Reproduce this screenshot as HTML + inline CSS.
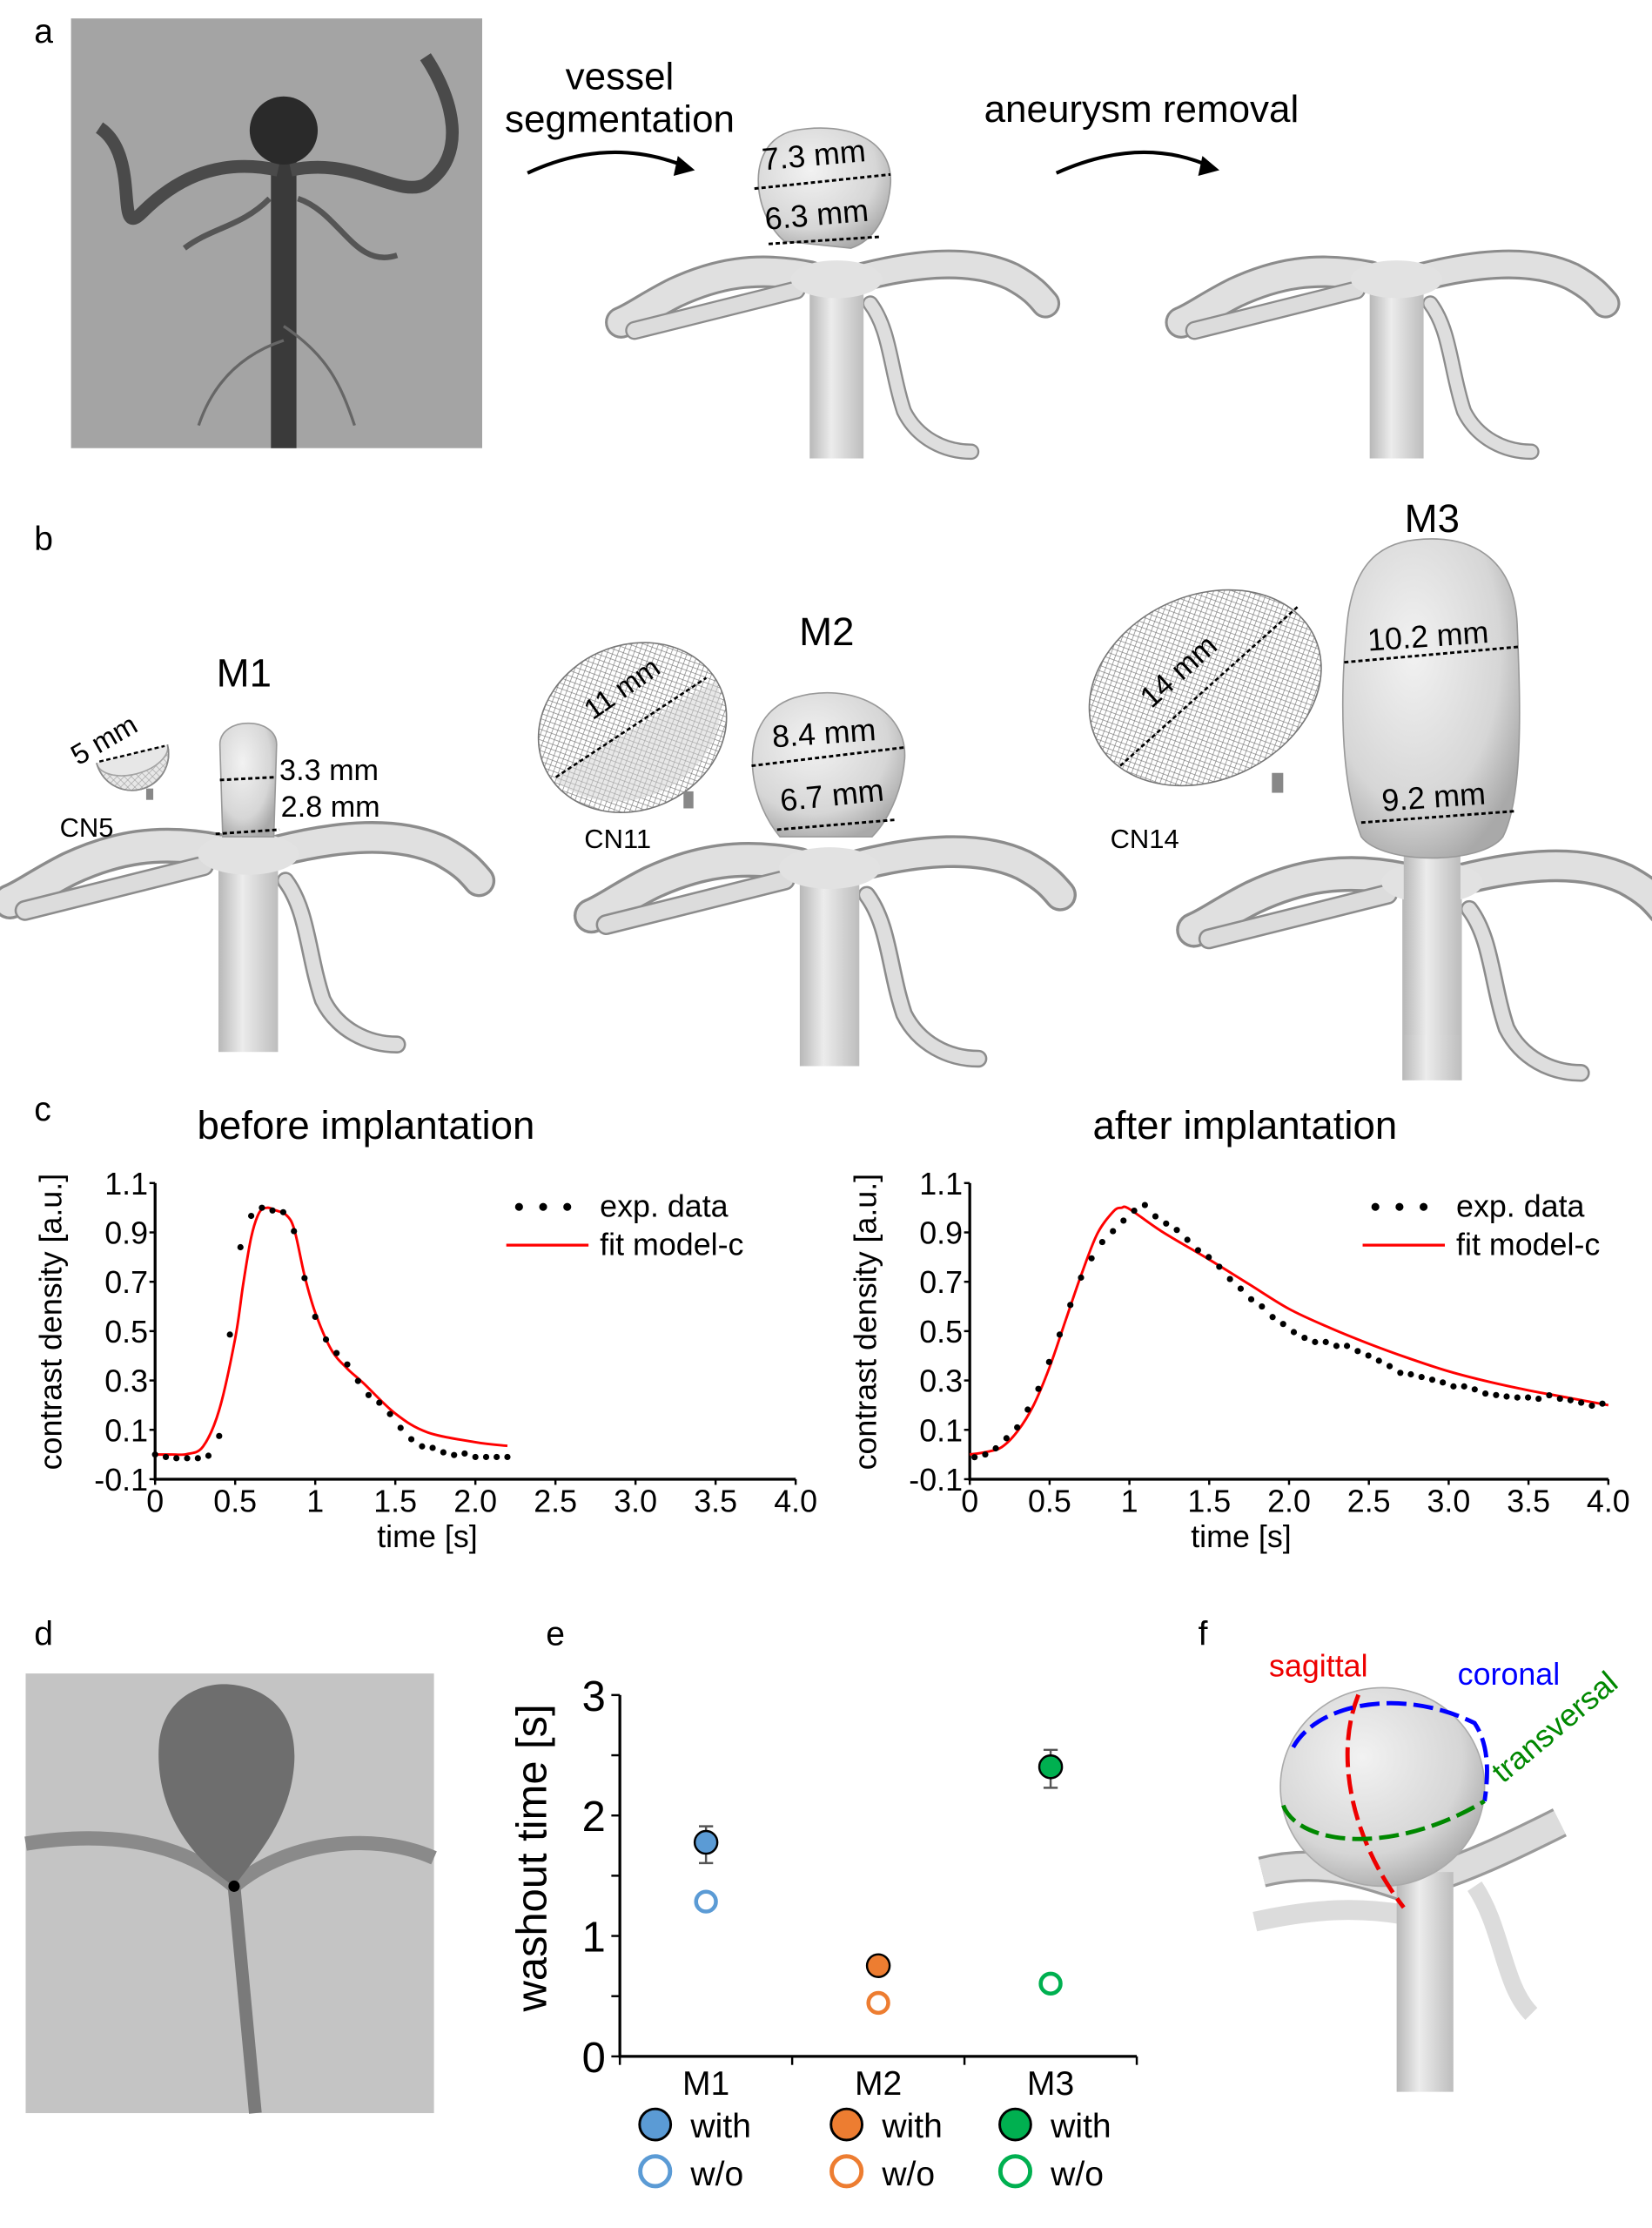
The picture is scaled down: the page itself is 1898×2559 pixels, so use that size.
<!DOCTYPE html>
<html><head><meta charset="utf-8"><style>
html,body{margin:0;padding:0;background:#fff;}
svg{display:block;font-family:"Liberation Sans",Arial,sans-serif;}
</style></head><body>
<svg id="fig" width="1898" height="2559" viewBox="0 0 1165 1571" xmlns="http://www.w3.org/2000/svg">
<defs>
<linearGradient id="vg" x1="0" x2="1" y1="0" y2="0"><stop offset="0" stop-color="#b8b8b8"/><stop offset="0.4" stop-color="#ececec"/><stop offset="1" stop-color="#bdbdbd"/></linearGradient>
<radialGradient id="bulb" cx="0.4" cy="0.35" r="0.7"><stop offset="0" stop-color="#f2f2f2"/><stop offset="0.7" stop-color="#d6d6d6"/><stop offset="1" stop-color="#a9a9a9"/></radialGradient>
<pattern id="mesh" width="5" height="5" patternUnits="userSpaceOnUse"><path d="M0 0L5 5M5 0L0 5" stroke="#777" stroke-width="0.4"/></pattern>
<g id="vessel">
  <path d="M-20 0 C-60 -8 -90 -2 -120 12 C-140 22 -150 30 -160 34" fill="none" stroke="#8c8c8c" stroke-width="24" stroke-linecap="round"/>
  <path d="M-20 0 C-60 -8 -90 -2 -120 12 C-140 22 -150 30 -160 34" fill="none" stroke="#e0e0e0" stroke-width="20" stroke-linecap="round"/>
  <path d="M20 0 C60 -10 100 -14 130 0 C145 8 150 14 155 20" fill="none" stroke="#8c8c8c" stroke-width="22" stroke-linecap="round"/>
  <path d="M20 0 C60 -10 100 -14 130 0 C145 8 150 14 155 20" fill="none" stroke="#e0e0e0" stroke-width="18" stroke-linecap="round"/>
  <path d="M-30 10 C-70 20 -110 30 -150 40" fill="none" stroke="#8c8c8c" stroke-width="14" stroke-linecap="round"/>
  <path d="M-30 10 C-70 20 -110 30 -150 40" fill="none" stroke="#dcdcdc" stroke-width="11" stroke-linecap="round"/>
  <path d="M25 20 C40 40 40 70 50 100 C60 120 80 130 100 130" fill="none" stroke="#8c8c8c" stroke-width="12" stroke-linecap="round"/>
  <path d="M25 20 C40 40 40 70 50 100 C60 120 80 130 100 130" fill="none" stroke="#dedede" stroke-width="9" stroke-linecap="round"/>
  <rect x="-20" y="-5" width="40" height="140" fill="url(#vg)"/>
  <ellipse cx="0" cy="2" rx="34" ry="14" fill="#e2e2e2"/>
</g>
</defs>

<!-- PANEL A -->
<text x="24" y="30" font-size="24">a</text>
<g>
  <rect x="50" y="13" width="290" height="303" fill="#a4a4a4"/>
  <path d="M200 110 L200 316" stroke="#3a3a3a" stroke-width="18" fill="none"/>
  <path d="M196 120 C150 110 120 130 100 150 C80 170 100 110 70 90" stroke="#4a4a4a" stroke-width="9" fill="none"/>
  <path d="M205 120 C250 110 280 140 300 130 C330 110 320 70 300 40" stroke="#4a4a4a" stroke-width="9" fill="none"/>
  <path d="M210 140 C240 150 250 190 280 180" stroke="#555" stroke-width="4" fill="none"/>
  <path d="M190 140 C170 160 150 160 130 175" stroke="#555" stroke-width="4" fill="none"/>
  <path d="M200 240 C170 250 150 270 140 300 M200 230 C230 250 240 270 250 300" stroke="#666" stroke-width="2" fill="none"/>
  <circle cx="200" cy="92" r="24" fill="#2a2a2a"/>
</g>
<text x="437" y="63" font-size="27" text-anchor="middle"><tspan x="437">vessel</tspan><tspan x="437" dy="30">segmentation</tspan></text>
<path d="M372 122 Q430 95 485 118" fill="none" stroke="#000" stroke-width="2.5"/>
<path d="M478 110 L490 120 L475 124 Z" fill="#000"/>
<text x="805" y="86" font-size="27" text-anchor="middle">aneurysm removal</text>
<path d="M745 122 Q805 95 855 118" fill="none" stroke="#000" stroke-width="2.5"/>
<path d="M848 110 L860 120 L845 124 Z" fill="#000"/>
<g>
  <use href="#vessel" transform="translate(590,195) scale(0.95)"/>
  <path d="M553 170 C530 150 525 100 560 92 C600 85 630 100 628 130 C626 155 615 170 600 175 Z" fill="url(#bulb)" stroke="#999" stroke-width="1"/>
  <line x1="532" y1="133" x2="628" y2="123" stroke="#000" stroke-width="1.8" stroke-dasharray="3,2"/>
  <line x1="542" y1="172" x2="620" y2="167" stroke="#000" stroke-width="1.8" stroke-dasharray="3,2"/>
  <text x="538" y="120" font-size="22" transform="rotate(-5 538 120)">7.3 mm</text>
  <text x="540" y="162" font-size="22" transform="rotate(-5 540 162)">6.3 mm</text>
</g>
<g>
  <use href="#vessel" transform="translate(985,195) scale(0.95)"/>
</g>

<!-- PANEL B -->
<text x="24" y="388" font-size="24">b</text>
<g>
  <use href="#vessel" transform="translate(175,600) scale(1.05)"/>
  <path d="M157 590 L155 525 C155 505 195 505 195 525 L193 590 Z" fill="url(#bulb)" stroke="#999" stroke-width="1"/>
  <line x1="155" y1="550" x2="194" y2="548" stroke="#000" stroke-width="1.8" stroke-dasharray="3,2"/>
  <line x1="152" y1="588" x2="197" y2="585" stroke="#000" stroke-width="1.8" stroke-dasharray="3,2"/>
  <text x="172" y="484" font-size="28" text-anchor="middle">M1</text>
  <text x="197" y="550" font-size="21">3.3 mm</text>
  <text x="198" y="576" font-size="21">2.8 mm</text>
  <path d="M68 538 A25 14 -15 0 0 118 525 A25 25 0 0 1 68 538 Z" fill="url(#mesh)" stroke="#777"/>
  <path d="M68 538 A25 25 0 0 0 118 525" fill="#cfcfcf" fill-opacity="0.5" stroke="#888"/>
  <rect x="103" y="556" width="5" height="8" fill="#888"/>
  <line x1="70" y1="537" x2="116" y2="526" stroke="#000" stroke-width="1.5" stroke-dasharray="3,2"/>
  <text x="55" y="540" font-size="20" transform="rotate(-30 55 540)">5 mm</text>
  <text x="42" y="590" font-size="19">CN5</text>
</g>
<g>
  <use href="#vessel" transform="translate(585,610) scale(1.05)"/>
  <path d="M550 590 C525 560 520 505 560 492 C600 480 640 500 638 535 C636 560 625 580 615 590 Z" fill="url(#bulb)" stroke="#999"/>
  <line x1="530" y1="540" x2="638" y2="527" stroke="#000" stroke-width="1.8" stroke-dasharray="3,2"/>
  <line x1="548" y1="585" x2="632" y2="578" stroke="#000" stroke-width="1.8" stroke-dasharray="3,2"/>
  <text x="583" y="455" font-size="28" text-anchor="middle">M2</text>
  <text x="545" y="527" font-size="22" transform="rotate(-4 545 527)">8.4 mm</text>
  <text x="551" y="572" font-size="22" transform="rotate(-6 551 572)">6.7 mm</text>
  <ellipse cx="446" cy="513" rx="68" ry="58" transform="rotate(-25 446 513)" fill="url(#mesh)" stroke="#777"/>
  <path d="M390 548 A68 58 -25 0 0 505 480 L390 548 Z" fill="#d2d2d2" fill-opacity="0.5"/>
  <rect x="482" y="558" width="7" height="12" fill="#888"/>
  <line x1="392" y1="548" x2="498" y2="478" stroke="#000" stroke-width="1.6" stroke-dasharray="3,2"/>
  <text x="418" y="508" font-size="20" transform="rotate(-35 418 508)">11 mm</text>
  <text x="412" y="598" font-size="19">CN11</text>
</g>
<g>
  <use href="#vessel" transform="translate(1010,620) scale(1.05)"/>
  <rect x="990" y="600" width="40" height="130" fill="url(#vg)"/>
  <path d="M960 590 C945 550 945 490 950 440 C955 390 980 380 1010 380 C1040 380 1068 395 1070 440 C1072 490 1075 560 1060 590 C1045 610 975 610 960 590 Z" fill="url(#bulb)" stroke="#999"/>
  <line x1="948" y1="467" x2="1072" y2="456" stroke="#000" stroke-width="1.8" stroke-dasharray="3,2"/>
  <line x1="960" y1="580" x2="1068" y2="572" stroke="#000" stroke-width="1.8" stroke-dasharray="3,2"/>
  <text x="1010" y="375" font-size="28" text-anchor="middle">M3</text>
  <text x="965" y="459" font-size="22" transform="rotate(-4 965 459)">10.2 mm</text>
  <text x="975" y="572" font-size="22" transform="rotate(-4 975 572)">9.2 mm</text>
  <ellipse cx="850" cy="485" rx="85" ry="65" transform="rotate(-25 850 485)" fill="url(#mesh)" stroke="#777"/>
  <rect x="897" y="545" width="8" height="14" fill="#888"/>
  <line x1="790" y1="540" x2="915" y2="428" stroke="#000" stroke-width="1.6" stroke-dasharray="3,2"/>
  <text x="812" y="500" font-size="21" transform="rotate(-42 812 500)">14 mm</text>
  <text x="783" y="598" font-size="19">CN14</text>
</g>

<!-- PANEL C -->
<text x="24" y="790" font-size="24">c</text>
<text x="258" y="803" font-size="28" text-anchor="middle">before implantation</text>
<text x="878" y="803" font-size="28" text-anchor="middle">after implantation</text>
<g id="chartL"></g>
<g id="chartR"></g>

<!-- PANEL D -->
<text x="24" y="1160" font-size="24">d</text>
<g>
  <rect x="18" y="1180" width="288" height="310" fill="#c4c4c4"/>
  <path d="M18 1300 C80 1290 130 1300 165 1330 C200 1300 260 1290 306 1310" stroke="#8a8a8a" stroke-width="10" fill="none"/>
  <path d="M165 1330 L180 1490" stroke="#7a7a7a" stroke-width="9" fill="none"/>
  <path d="M165 1330 C120 1300 110 1260 112 1230 C115 1195 145 1185 165 1188 C195 1192 215 1215 205 1260 C198 1290 180 1310 165 1330 Z" fill="#6e6e6e"/>
  <circle cx="165" cy="1330" r="4" fill="#000"/>
</g>

<!-- PANEL E -->
<text x="385" y="1160" font-size="24">e</text>
<g id="chartE"></g>

<!-- PANEL F -->
<text x="845" y="1160" font-size="24">f</text>
<g>
  <path d="M890 1320 C930 1310 960 1320 990 1330 C1030 1320 1070 1300 1100 1285" stroke="#9a9a9a" stroke-width="22" fill="none"/>
  <path d="M890 1320 C930 1310 960 1320 990 1330 C1030 1320 1070 1300 1100 1285" stroke="#dcdcdc" stroke-width="18" fill="none"/>
  <path d="M885 1355 C930 1345 960 1345 990 1350" stroke="#dcdcdc" stroke-width="14" fill="none"/>
  <path d="M1040 1330 C1060 1360 1060 1400 1080 1420" stroke="#dcdcdc" stroke-width="12" fill="none"/>
  <rect x="985" y="1320" width="40" height="155" fill="url(#vg)"/>
  <ellipse cx="975" cy="1260" rx="72" ry="70" fill="url(#bulb)" stroke="#aaa"/>
  <path d="M958 1195 C940 1240 955 1300 990 1345" fill="none" stroke="#e00" stroke-width="3" stroke-dasharray="14,5"/>
  <path d="M912 1232 C930 1200 990 1190 1040 1215 C1050 1230 1050 1250 1047 1270" fill="none" stroke="#00f" stroke-width="3" stroke-dasharray="14,5"/>
  <path d="M905 1273 C915 1300 980 1310 1047 1270" fill="none" stroke="#080" stroke-width="3" stroke-dasharray="14,5"/>
  <text x="895" y="1182" font-size="22" fill="#e00">sagittal</text>
  <text x="1028" y="1188" font-size="22" fill="#00f">coronal</text>
  <text x="1060" y="1258" font-size="22" fill="#080" transform="rotate(-40 1060 1258)">transversal</text>
</g>
</svg>

<script>
// ---- data: panel c, before implantation ----
const beforeT = [0,0.067,0.133,0.2,0.267,0.333,0.4,0.467,0.533,0.6,0.667,0.733,0.8,0.867,0.933,1.0,1.067,1.133,1.2,1.267,1.333,1.4,1.467,1.533,1.6,1.667,1.733,1.8,1.867,1.933,2.0,2.067,2.133,2.2];
const beforeV = [0,-0.01,-0.015,-0.015,-0.015,-0.005,0.075,0.486,0.84,0.967,1.0,0.989,0.982,0.905,0.715,0.558,0.466,0.411,0.365,0.298,0.241,0.21,0.164,0.108,0.062,0.033,0.027,0.009,-0.002,0.004,-0.01,-0.01,-0.01,-0.01];
const beforeFitT = [0,0.1,0.2,0.3,0.4,0.5,0.55,0.6,0.65,0.7,0.75,0.82,0.87,0.935,1.0,1.1,1.2,1.3,1.5,1.7,2.0,2.2];
const beforeFitV = [0,0,0.002,0.033,0.18,0.47,0.69,0.88,0.98,1.0,0.99,0.97,0.91,0.72,0.575,0.425,0.348,0.29,0.166,0.09,0.05,0.035];
// ---- data: panel c, after implantation ----
const afterT = [0.03,0.097,0.163,0.23,0.297,0.363,0.43,0.497,0.563,0.63,0.697,0.763,0.83,0.897,0.963,1.03,1.097,1.163,1.23,1.297,1.363,1.43,1.497,1.563,1.63,1.697,1.763,1.83,1.897,1.963,2.03,2.097,2.163,2.23,2.297,2.363,2.43,2.497,2.563,2.63,2.697,2.763,2.83,2.897,2.963,3.03,3.097,3.163,3.23,3.297,3.363,3.43,3.497,3.563,3.63,3.697,3.763,3.83,3.897,3.963];
const afterV = [-0.011,0,0.025,0.066,0.11,0.182,0.266,0.375,0.486,0.606,0.717,0.795,0.861,0.905,0.948,0.988,1.011,0.965,0.936,0.91,0.87,0.828,0.8,0.761,0.711,0.672,0.629,0.6,0.557,0.529,0.496,0.473,0.456,0.456,0.44,0.44,0.419,0.401,0.38,0.358,0.331,0.325,0.314,0.303,0.292,0.276,0.276,0.264,0.247,0.241,0.235,0.231,0.231,0.226,0.24,0.226,0.22,0.21,0.198,0.206];
const afterFitT = [0,0.1,0.2,0.3,0.4,0.5,0.6,0.7,0.8,0.9,0.95,1.0,1.2,1.5,1.75,2.0,2.25,2.5,2.75,3.0,3.25,3.5,3.75,4.0];
const afterFitV = [0,0.01,0.03,0.095,0.2,0.354,0.543,0.731,0.896,0.985,1.0,0.995,0.905,0.79,0.69,0.59,0.515,0.449,0.39,0.337,0.295,0.26,0.23,0.2];
const xTicks = [0,0.5,1.0,1.5,2.0,2.5,3.0,3.5,4.0];
const xTickLabels = ["0","0.5","1","1.5","2.0","2.5","3.0","3.5","4.0"];
const yTicks = [-0.1,0.1,0.3,0.5,0.7,0.9,1.1];
const yTickLabels = ["-0.1","0.1","0.3","0.5","0.7","0.9","1.1"];
// ---- data: panel e ----
const models = ["M1","M2","M3"];
const withVals = [1.777,0.753,2.404];
const withErrLo = [1.605,0.753,2.23];
const withErrHi = [1.91,0.753,2.545];
const withoutVals = [1.285,0.444,0.604];
const modelColors = ["#5b9bd5","#ed7d31","#00b050"];
const eTicks = [0,1,2,3];

const NS = "http://www.w3.org/2000/svg";
function mk(parent, tag, attrs, text){
  const e = document.createElementNS(NS, tag);
  for (const k in attrs) e.setAttribute(k, attrs[k]);
  if (text !== undefined) e.textContent = text;
  parent.appendChild(e);
  return e;
}
function smooth(pts){
  let d = "M" + pts[0][0] + " " + pts[0][1];
  for (let i=0;i<pts.length-1;i++){
    const p0=pts[Math.max(0,i-1)], p1=pts[i], p2=pts[i+1], p3=pts[Math.min(pts.length-1,i+2)];
    const c1=[p1[0]+(p2[0]-p0[0])/6, p1[1]+(p2[1]-p0[1])/6];
    const c2=[p2[0]-(p3[0]-p1[0])/6, p2[1]-(p3[1]-p1[1])/6];
    d += " C"+c1[0]+" "+c1[1]+" "+c2[0]+" "+c2[1]+" "+p2[0]+" "+p2[1];
  }
  return d;
}
function lineChart(g, x0, pps, T, V, FT, FV, legX){
  const yTop = 834.2, yBot = 1043.0;
  const sx = t => x0 + t*pps;
  const sy = v => yBot - (v + 0.1)/1.2*(yBot - yTop);
  const ax = mk(g,"path",{d:"M"+x0+" "+yTop+" L"+x0+" "+yBot+" L"+sx(4)+" "+yBot, fill:"none", stroke:"#000","stroke-width":2});
  
  
  yTicks.forEach((v,i)=>{
    mk(g,"line",{x1:x0-4,x2:x0,y1:sy(v),y2:sy(v),stroke:"#000","stroke-width":1.5});
    const t = mk(g,"text",{x:x0-5,y:sy(v)+8,"font-size":22,"text-anchor":"end"}, yTickLabels[i]);
    
    
  });
  xTicks.forEach((v,i)=>{
    mk(g,"line",{x1:sx(v),x2:sx(v),y1:yBot,y2:yBot+4,stroke:"#000","stroke-width":1.5});
    const t = mk(g,"text",{x:sx(v),y:yBot+23,"font-size":22,"text-anchor":"middle"}, xTickLabels[i]);
    
    
  });
  const xt = mk(g,"text",{x:sx(1.7),y:1091,"font-size":22,"text-anchor":"middle"},"time [s]");
  
  
  const yx = x0-66, yy = 932;
  const ytl = mk(g,"text",{x:yx,y:yy,"font-size":22,"text-anchor":"middle",transform:"rotate(-90 "+yx+" "+yy+")"},"contrast density [a.u.]");
  
  
  const fit = mk(g,"path",{d:smooth(FT.map((t,i)=>[sx(t),sy(FV[i])])),fill:"none",stroke:"#f00","stroke-width":1.8});
  
  
  T.forEach((t,i)=>{
    const c = mk(g,"circle",{cx:sx(t),cy:sy(V[i]),r:2.2,fill:"#000"});
    
    
  });
  [0,17,34].forEach(dx=>mk(g,"circle",{cx:legX+dx,cy:851,r:2.8,fill:"#000"}));
  const l1 = mk(g,"text",{x:legX+57,y:858,"font-size":22},"exp. data");
  
  
  mk(g,"line",{x1:legX-9,x2:legX+49,y1:878,y2:878,stroke:"#f00","stroke-width":2});
  const l2 = mk(g,"text",{x:legX+57,y:885,"font-size":22},"fit model-c");
  
  
}
lineChart(document.getElementById("chartL"),109.3,112.95,beforeT,beforeV,beforeFitT,beforeFitV,366);
lineChart(document.getElementById("chartR"),683.9,112.6,afterT,afterV,afterFitT,afterFitV,970);

// panel e
(function(){
  const g = document.getElementById("chartE");
  const x0 = 437.1, x1 = 801.7, y0 = 1450, y3 = 1195.2;
  const sy = v => y0 - v/3*(y0-y3);
  const catX = i => x0 + (i+0.5)*(x1-x0)/3;
  const ax = mk(g,"path",{d:"M"+x0+" "+y3+" L"+x0+" "+y0+" L"+x1+" "+y0,fill:"none",stroke:"#000","stroke-width":2});
  
  
  for (let i=0;i<=6;i++){ mk(g,"line",{x1:x0-6,x2:x0,y1:sy(i/2),y2:sy(i/2),stroke:"#000","stroke-width":1.5}); }
  eTicks.forEach(v=>{
    const t = mk(g,"text",{x:x0-10,y:sy(v)+11,"font-size":30,"text-anchor":"end"},String(v));
    
    
  });
  for (let i=0;i<=3;i++){ const x=x0+i*(x1-x0)/3; mk(g,"line",{x1:x,x2:x,y1:y0,y2:y0+6,stroke:"#000","stroke-width":1.5}); }
  const yt = mk(g,"text",{x:385,y:1310,"font-size":30,"text-anchor":"middle",transform:"rotate(-90 385 1310)"},"washout time [s]");
  
  
  models.forEach((m,i)=>{
    const x = catX(i);
    const lab = mk(g,"text",{x:x,y:1477,"font-size":24,"text-anchor":"middle"},m);
    
    
    if (withErrHi[i] !== withErrLo[i]){
      mk(g,"path",{d:"M"+(x-5)+" "+sy(withErrHi[i])+" H"+(x+5)+" M"+x+" "+sy(withErrHi[i])+" V"+sy(withErrLo[i])+" M"+(x-5)+" "+sy(withErrLo[i])+" H"+(x+5),stroke:"#555","stroke-width":1.5,fill:"none"});
    }
    const c1 = mk(g,"circle",{cx:x,cy:sy(withVals[i]),r:8,fill:modelColors[i],stroke:"#000","stroke-width":1.5});
    
    
    const c2 = mk(g,"circle",{cx:x,cy:sy(withoutVals[i]),r:7,fill:"none",stroke:modelColors[i],"stroke-width":2.8});
    
    
  });
  const legXs = [462,597,716];
  models.forEach((m,i)=>{
    const lx = legXs[i];
    mk(g,"circle",{cx:lx,cy:1498,r:11,fill:modelColors[i],stroke:"#000","stroke-width":1.8});
    const t1 = mk(g,"text",{x:lx+25,y:1507,"font-size":24},"with");
    
    
    mk(g,"circle",{cx:lx,cy:1531,r:10.5,fill:"none",stroke:modelColors[i],"stroke-width":3});
    const t2 = mk(g,"text",{x:lx+25,y:1541,"font-size":24},"w/o");
    
    
  });
})();
</script>
</body></html>
